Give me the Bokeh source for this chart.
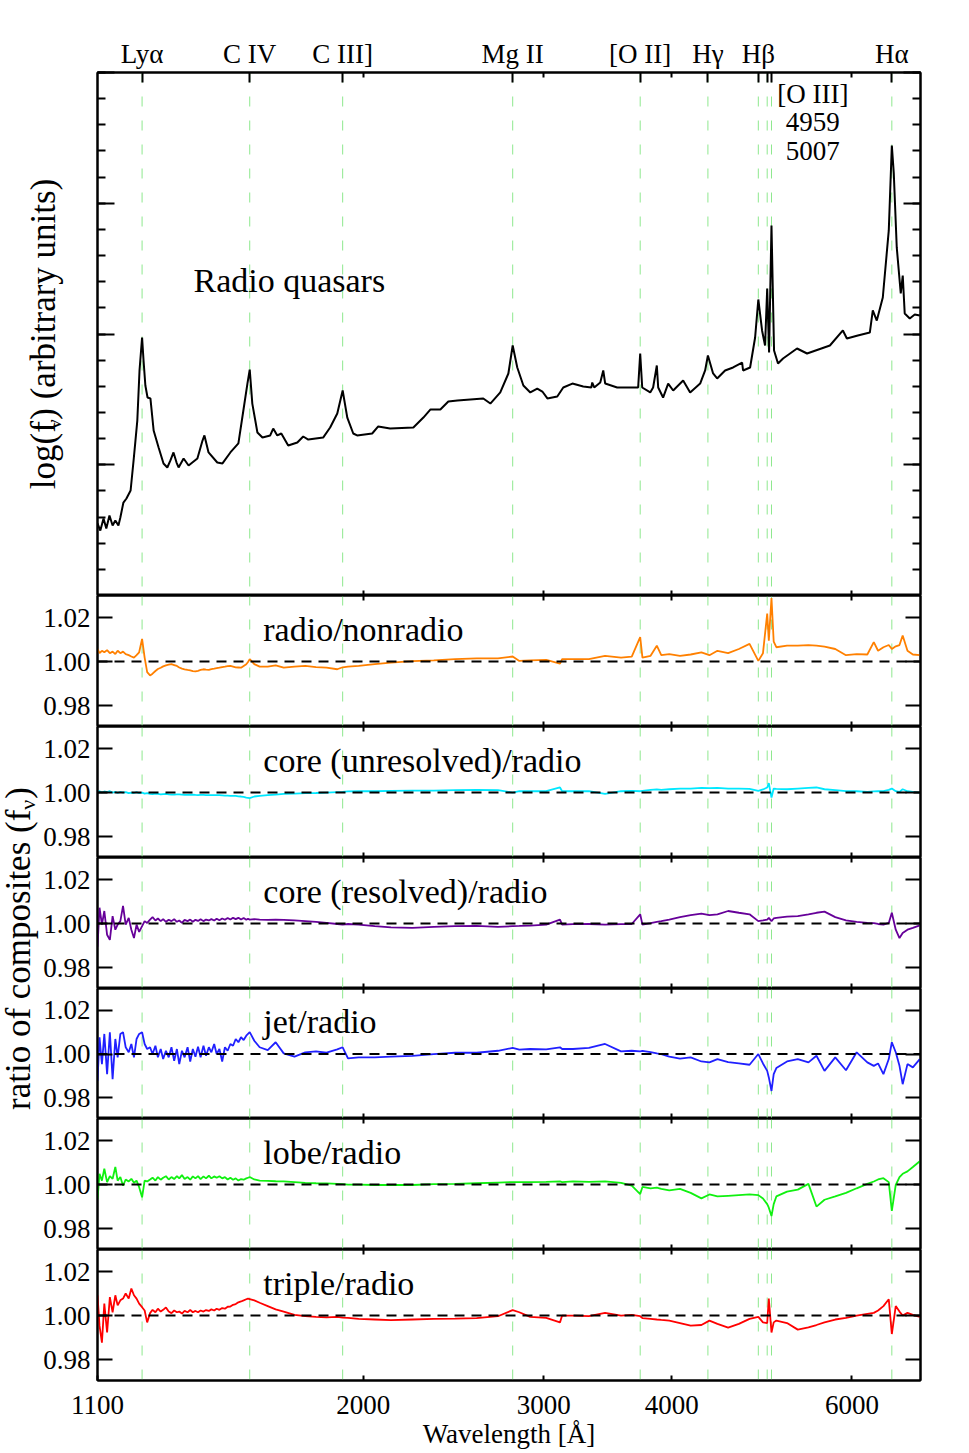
import math
from bokeh.plotting import figure
from bokeh.layouts import column, row
from bokeh.models import Range1d, LogAxis, LinearAxis, FixedTicker, Span
from bokeh.core.properties import value
from bokeh.embed import file_html
from bokeh.resources import INLINE

FONT = "Liberation Serif"

# ---------------- data ----------------
spec_wave = [1100,1107,1115,1122,1130,1138,1145,1153,1158,1166,
             1174,1185,1193,1198,1203,1209,1216,1220,1225,1231,
             1239,1248,1262,1276,1287,1296,1305,1314,1320,1335,
             1350,1377,1393,1399,1412,1440,1457,1483,1510,1527,
             1541,1549,1558,1576,1594,1622,1633,1648,1663,1689,
             1724,1747,1767,1827,1856,1886,1909,1929,1955,1972,
             2040,2068,2124,2238,2289,2326,2378,2421,2471,2544,
             2619,2661,2721,2771,2798,2827,2866,2911,2957,2991,
             3025,3093,3135,3200,3279,3339,3346,3361,3407,3430,
             3445,3539,3620,3710,3727,3744,3812,3837,3869,3881,
             3924,3969,4014,4105,4170,4265,4313,4340,4391,4431,
             4511,4593,4687,4697,4772,4826,4861,4902,4935,4959,
             4980,5007,5036,5081,5139,5303,5424,5710,5879,5932,
             6080,6246,6288,6345,6431,6518,6563,6592,6636,6696,
             6726,6756,6833,6910,6989]
spec_logf = [0.551,0.497,0.589,0.512,0.612,0.535,0.574,0.535,0.597,0.711,
             0.742,0.803,1.033,1.185,1.338,1.721,1.973,1.797,1.606,1.514,
             1.507,1.262,1.132,1.010,0.979,1.033,1.094,1.017,0.979,1.048,
             0.994,1.048,1.185,1.224,1.094,1.017,1.010,1.094,1.163,1.415,
             1.621,1.728,1.468,1.247,1.208,1.224,1.277,1.224,1.239,1.147,
             1.170,1.216,1.193,1.208,1.285,1.392,1.568,1.361,1.239,1.224,
             1.239,1.293,1.277,1.285,1.361,1.423,1.423,1.484,1.491,1.499,
             1.507,1.468,1.553,1.698,1.912,1.744,1.606,1.553,1.583,1.560,
             1.507,1.522,1.591,1.621,1.598,1.591,1.629,1.591,1.629,1.721,
             1.621,1.591,1.591,1.591,1.851,1.591,1.553,1.591,1.759,1.591,
             1.514,1.621,1.568,1.644,1.553,1.621,1.721,1.836,1.698,1.660,
             1.721,1.744,1.782,1.721,1.744,1.973,2.264,2.027,1.912,2.348,
             1.858,2.830,1.874,1.774,1.813,1.889,1.851,1.912,2.027,1.966,
             1.989,2.011,2.180,2.103,2.279,2.792,3.442,3.228,2.662,2.310,
             2.447,2.157,2.119,2.149,2.141]

ratio_wave = [1100,1105,1111,1117,1124,1131,1138,1145,1151,1158,
              1165,1172,1180,1187,1194,1201,1208,1216,1223,1230,
              1238,1245,1253,1260,1268,1275,1283,1291,1299,1307,
              1315,1322,1330,1338,1347,1355,1363,1371,1379,1387,
              1396,1404,1413,1421,1430,1438,1447,1456,1465,1474,
              1483,1492,1501,1510,1519,1528,1537,1543,1549,
              1565,1584,1613,1642,1672,1713,1755,1798,1841,1886,
              1909,1932,1979,2052,2128,2233,2343,2458,2580,2707,
              2798,2840,2910,3017,3112,3127,3204,3321,3444,3570,
              3657,3727,3746,3815,3869,3908,3979,4076,4175,4277,
              4355,4434,4542,4653,4766,4861,4912,4959,4977,5007,
              5032,5062,5185,5312,5441,5540,5641,5779,5920,6064,
              6211,6302,6363,6440,6518,6563,6621,6677,6725,6798,
              6881,6989]

radio_nonradio = [1.0057,1.0038,1.0049,1.0042,1.0052,1.0038,1.0045,1.0034,1.0049,1.0038,
                  1.0045,1.0034,1.0029,1.0023,1.0018,1.0029,1.0042,1.0103,1.0018,0.9952,
                  0.9937,0.9945,0.9957,0.9966,0.9972,0.9978,0.9983,0.9986,0.9988,0.9984,
                  0.9980,0.9973,0.9968,0.9965,0.9962,0.9960,0.9957,0.9955,0.9958,0.9962,
                  0.9965,0.9963,0.9962,0.9966,0.9968,0.9970,0.9972,0.9975,0.9977,0.9979,
                  0.9980,0.9977,0.9974,0.9973,0.9972,0.9980,0.9988,0.9998,1.0011,
                  0.9988,0.9977,0.9977,0.9983,0.9972,0.9977,0.9980,0.9975,0.9972,0.9965,
                  0.9974,0.9977,0.9980,0.9988,0.9995,1.0002,1.0005,1.0011,1.0014,1.0014,
                  1.0023,1.0003,1.0005,1.0008,0.9991,1.0011,1.0011,1.0011,1.0026,1.0018,
                  1.0022,1.0111,1.0018,1.0026,1.0072,1.0029,1.0034,1.0026,1.0032,1.0042,
                  1.0029,1.0049,1.0038,1.0057,1.0080,1.0003,1.0038,1.0218,1.0095,1.0288,
                  1.0091,1.0065,1.0072,1.0072,1.0075,1.0072,1.0068,1.0057,1.0029,1.0034,
                  1.0032,1.0088,1.0049,1.0065,1.0075,1.0057,1.0069,1.0075,1.0118,1.0049,
                  1.0032,1.0029]
core_unresolved = [1.0003,1.0006,1.0000,1.0005,1.0002,1.0006,1.0000,1.0003,0.9998,1.0003,
                   1.0000,1.0002,0.9997,1.0000,0.9998,1.0002,0.9997,1.0000,0.9995,0.9997,
                   0.9994,0.9993,0.9995,0.9994,0.9992,0.9993,0.9994,0.9992,0.9991,0.9991,
                   0.9992,0.9992,0.9991,0.9990,0.9989,0.9990,0.9991,0.9989,0.9988,0.9989,
                   0.9989,0.9988,0.9988,0.9988,0.9988,0.9988,0.9988,0.9987,0.9986,0.9986,
                   0.9985,0.9985,0.9985,0.9983,0.9982,0.9980,0.9977,0.9976,0.9975,
                   0.9982,0.9985,0.9988,0.9991,0.9994,0.9995,0.9997,0.9998,1.0000,1.0002,
                   1.0003,1.0005,1.0006,1.0006,1.0008,1.0009,1.0009,1.0011,1.0012,1.0011,
                   1.0000,1.0006,1.0006,1.0006,1.0023,1.0006,1.0006,1.0006,0.9994,1.0006,
                   1.0008,1.0006,1.0008,1.0012,1.0014,1.0012,1.0015,1.0018,1.0018,1.0021,
                   1.0020,1.0021,1.0018,1.0018,1.0017,1.0008,1.0014,1.0023,1.0043,0.9977,
                   1.0018,1.0017,1.0015,1.0018,1.0021,1.0023,1.0015,1.0011,1.0006,1.0006,
                   1.0003,1.0005,1.0006,1.0006,1.0012,1.0018,1.0006,1.0003,1.0015,1.0006,
                   1.0003,1.0000]
core_resolved = [0.9895,1.0072,0.9995,1.0057,0.9949,0.9926,1.0034,0.9972,0.9995,1.0011,
                 1.0080,0.9995,1.0026,0.9972,0.9934,0.9995,0.9962,0.9988,1.0011,1.0003,
                 1.0018,1.0029,1.0014,1.0023,1.0011,1.0020,1.0008,1.0017,1.0011,1.0020,
                 1.0008,1.0014,1.0003,1.0017,1.0011,1.0018,1.0008,1.0017,1.0012,1.0020,
                 1.0011,1.0018,1.0014,1.0020,1.0014,1.0022,1.0015,1.0023,1.0017,1.0025,
                 1.0018,1.0026,1.0020,1.0026,1.0018,1.0025,1.0017,1.0022,1.0018,
                 1.0020,1.0018,1.0017,1.0018,1.0017,1.0014,1.0011,1.0008,1.0003,0.9998,
                 0.9995,0.9998,0.9995,0.9988,0.9983,0.9980,0.9985,0.9988,0.9989,0.9985,
                 0.9988,0.9989,0.9991,0.9995,1.0018,0.9995,0.9997,0.9998,0.9995,0.9997,
                 0.9998,1.0042,0.9995,1.0002,1.0008,1.0011,1.0018,1.0029,1.0038,1.0045,
                 1.0038,1.0042,1.0057,1.0049,1.0042,1.0011,1.0014,1.0018,1.0026,1.0011,
                 1.0023,1.0026,1.0031,1.0034,1.0042,1.0049,1.0054,1.0029,1.0014,1.0008,
                 1.0003,1.0002,0.9998,0.9995,1.0003,1.0049,0.9972,0.9934,0.9957,0.9972,
                 0.9980,0.9992]
jet_radio = [0.9877,1.0077,0.9954,1.0092,0.9908,1.0100,0.9885,1.0069,0.9985,1.0092,
             1.0100,1.0031,1.0008,1.0046,0.9985,1.0069,1.0092,1.0100,1.0046,1.0023,
             1.0031,1.0000,1.0038,0.9985,1.0023,0.9977,1.0015,0.9985,1.0031,0.9969,
             1.0023,0.9954,1.0015,0.9985,1.0031,0.9966,1.0023,0.9988,1.0034,0.9985,
             1.0038,0.9992,1.0031,1.0008,1.0046,1.0000,1.0023,0.9966,1.0031,1.0015,
             1.0046,1.0038,1.0069,1.0054,1.0077,1.0064,1.0084,1.0092,1.0100,
             1.0061,1.0031,1.0018,1.0054,1.0003,0.9988,1.0008,1.0012,1.0006,1.0021,
             1.0031,0.9980,0.9985,0.9985,0.9988,0.9992,1.0000,1.0006,1.0006,1.0015,
             1.0028,1.0020,1.0023,1.0021,1.0031,1.0023,1.0023,1.0028,1.0046,1.0012,
             1.0015,1.0012,1.0015,1.0009,1.0003,1.0000,0.9988,0.9979,0.9985,0.9966,
             0.9962,0.9977,0.9963,0.9957,0.9951,1.0000,0.9957,0.9923,0.9893,0.9831,
             0.9908,0.9936,0.9966,0.9977,0.9962,0.9992,0.9923,0.9985,0.9926,1.0008,
             0.9962,0.9946,0.9957,0.9908,0.9977,1.0054,1.0008,0.9946,0.9862,0.9954,
             0.9939,0.9977]
lobe_radio = [0.9934,1.0049,1.0018,1.0072,1.0011,1.0038,1.0026,1.0080,1.0018,1.0034,
              0.9995,1.0023,1.0014,1.0026,1.0008,1.0018,0.9988,0.9942,1.0018,1.0014,
              1.0023,1.0031,1.0018,1.0034,1.0022,1.0031,1.0038,1.0023,1.0034,1.0025,
              1.0038,1.0028,1.0043,1.0025,1.0034,1.0022,1.0037,1.0028,1.0038,1.0025,
              1.0037,1.0028,1.0040,1.0028,1.0037,1.0031,1.0038,1.0028,1.0034,1.0023,
              1.0031,1.0022,1.0028,1.0018,1.0025,1.0022,1.0028,1.0031,1.0034,
              1.0023,1.0018,1.0017,1.0015,1.0014,1.0011,1.0008,1.0006,1.0005,1.0003,
              1.0002,1.0000,1.0000,0.9998,0.9998,0.9998,1.0002,1.0003,1.0006,1.0009,
              1.0011,1.0011,1.0011,1.0012,1.0014,1.0011,1.0014,1.0012,1.0014,1.0008,
              0.9995,0.9957,0.9989,0.9983,0.9986,0.9980,0.9974,0.9980,0.9962,0.9937,
              0.9955,0.9946,0.9949,0.9952,0.9955,0.9952,0.9937,0.9911,0.9895,0.9857,
              0.9911,0.9946,0.9968,0.9977,1.0003,0.9900,0.9931,0.9946,0.9962,0.9983,
              1.0003,1.0014,1.0023,1.0029,1.0011,0.9880,0.9998,1.0034,1.0049,1.0060,
              1.0080,1.0106]
triple_radio = [1.0092,0.9954,0.9877,1.0054,0.9923,1.0084,1.0015,1.0092,1.0046,1.0069,
                1.0077,1.0100,1.0077,1.0123,1.0092,1.0077,1.0054,1.0038,1.0023,0.9969,
                1.0011,1.0026,1.0015,1.0031,1.0018,1.0026,1.0037,1.0018,1.0011,1.0023,
                1.0015,1.0018,1.0009,1.0021,1.0015,1.0025,1.0015,1.0021,1.0015,1.0023,
                1.0018,1.0025,1.0021,1.0028,1.0023,1.0031,1.0026,1.0034,1.0031,1.0040,
                1.0041,1.0049,1.0052,1.0060,1.0064,1.0069,1.0074,1.0077,1.0075,
                1.0069,1.0058,1.0043,1.0028,1.0018,1.0003,0.9997,0.9994,0.9992,0.9994,
                0.9991,0.9989,0.9985,0.9982,0.9979,0.9982,0.9985,0.9986,0.9988,0.9997,
                1.0025,1.0015,0.9994,0.9989,0.9969,1.0000,1.0000,0.9997,1.0012,1.0000,
                1.0003,0.9997,0.9988,0.9985,0.9982,0.9980,0.9977,0.9966,0.9954,0.9957,
                0.9977,0.9962,0.9945,0.9962,0.9985,0.9994,0.9969,0.9966,1.0077,0.9923,
                0.9969,0.9977,0.9966,0.9936,0.9946,0.9957,0.9969,0.9982,0.9989,1.0000,
                1.0008,1.0012,1.0023,1.0043,1.0074,0.9916,1.0043,1.0018,1.0000,1.0012,
                1.0003,0.9994]

line_waves = [1216, 1549, 1909, 2798, 3727, 4340, 4861, 4959, 5007, 6563]
line_labels = ["Lyα", "C IV", "C III]", "Mg II", "[O II]", "Hγ", "Hβ", "", "", "Hα"]
x_tick_vals = [1100, 2000, 3000, 4000, 6000]
ratio_tick_vals = [0.98, 1.00, 1.02]
panel_names = ["radio/nonradio", "core (unresolved)/radio", "core (resolved)/radio",
               "jet/radio", "lobe/radio", "triple/radio"]
panel_series = [radio_nonradio, core_unresolved, core_resolved, jet_radio, lobe_radio, triple_radio]
panel_colors = ["#ff8000", "#00e8ff", "#660099", "#2020ff", "#10f010", "#ff0000"]
oiii_lines = ["[O III]", "4959", "5007"]

# ---------------- layout constants (page has no margin: window px == layout px) ----------------
X0, X1 = 1100, 7000
FRAME_LEFT = 97
FRAME_W = 823
RIGHT = 20
GREEN = "#8ee88e"
TOP_STRIP_W = 66
RAT_STRIP_W = 40
TOP_LEFT = FRAME_LEFT - TOP_STRIP_W
RAT_LEFT = FRAME_LEFT - RAT_STRIP_W
TOP_BORDER = 72
TOP_FRAME_H = 523
RAT_FRAME_H = [131, 131, 131, 130, 131, 131]
BOTTOM_BORDER = 72
MID = 0.3375  # em offset between text middle and alphabetic baseline
YLAB = 35

x_range = Range1d(X0, X1)


def ticks_only(ax, tin, minor_in=0):
    ax.major_tick_in = tin
    ax.major_tick_out = 0
    ax.minor_tick_in = minor_in
    ax.minor_tick_out = 0
    ax.major_label_text_font_size = "0px"
    ax.major_label_text_color = None
    ax.major_label_standoff = 0
    ax.axis_line_width = 2
    ax.major_tick_line_width = 2
    ax.minor_tick_line_width = 2
    ax.axis_line_color = "black"


def base_fig(w, h, y_range, left, top=0, bottom=0):
    p = figure(width=w, height=h, x_axis_type="log", x_range=x_range, y_range=y_range,
               x_axis_location=None, y_axis_location=None, toolbar_location=None,
               output_backend="svg", min_border_left=left, min_border_right=RIGHT,
               min_border_top=top, min_border_bottom=bottom,
               outline_line_color="black", outline_line_width=2,
               background_fill_color="white", border_fill_color="white")
    p.grid.visible = False
    for lw in line_waves:
        p.add_layout(Span(location=lw, dimension="height", line_color=GREEN,
                          line_dash="10 14", line_width=1, level="underlay"))
    return p


def strip(w, h):
    s = figure(width=w, height=h, x_range=Range1d(0, w), y_range=Range1d(0, h),
               min_border=0, toolbar_location=None, output_backend="svg",
               x_axis_location=None, y_axis_location=None, outline_line_color=None,
               background_fill_color="white", border_fill_color="white")
    s.grid.visible = False
    return s


# Times-like advance widths (em) to chain the rotated label pieces
CW = {" ": .25, "(": .333, ")": .333, "a": .444, "b": .5, "c": .444, "e": .444, "f": .333,
      "g": .5, "i": .278, "l": .278, "m": .778, "n": .5, "o": .5, "p": .5, "r": .333,
      "s": .389, "t": .278, "u": .5, "y": .5, "ν": .5}


def tw(s, size):
    return sum(CW.get(c, .5) for c in s) * size


def vlabel(s, base_x, y_center, pieces, size=YLAB, sub=22, drop=5):
    total = sum(tw(t, sub if is_sub else size) for t, is_sub in pieces)
    y = y_center - total / 2
    for txt, is_sub in pieces:
        fs = sub if is_sub else size
        bx = base_x + (drop if is_sub else 0)
        s.text(x=[bx - MID * fs], y=[y], text=[txt], angle=math.pi / 2,
               text_font=value(FONT), text_font_size=value(f"{fs}px"),
               text_align="left", text_baseline="middle", text_color="black")
        y += tw(txt, fs)


def hlabel_y_px(base_px, fs):
    # screen y of text middle for a wanted baseline
    return base_px - MID * fs


# ---------------- top spectrum panel ----------------
top_h = TOP_BORDER + TOP_FRAME_H
top_w = TOP_LEFT + FRAME_W + RIGHT
YT0, YT1 = 0, 4
ptop = base_fig(top_w, top_h, Range1d(YT0, YT1), TOP_LEFT, top=TOP_BORDER)


def top_y(px):  # window px -> top-panel data
    return YT1 - (px - TOP_BORDER) / TOP_FRAME_H * (YT1 - YT0)


ax = LogAxis(ticker=FixedTicker(ticks=line_waves, minor_ticks=x_tick_vals[1:]))
ax.major_label_overrides = {w: n for w, n in zip(line_waves, line_labels)}
ax.major_tick_in = 10
ax.major_tick_out = 0
ax.minor_tick_in = 5
ax.minor_tick_out = 0
ax.axis_line_width = 2
ax.major_tick_line_width = 2
ax.minor_tick_line_width = 2
ax.major_label_text_font = FONT
ax.major_label_text_font_size = "27px"
ax.major_label_text_color = "black"
ax.major_label_standoff = 4
ptop.add_layout(ax, "above")

ax = LogAxis(ticker=FixedTicker(ticks=x_tick_vals[1:]))
ticks_only(ax, 5)
ptop.add_layout(ax, "below")

for side in ("left", "right"):
    ax = LinearAxis(ticker=FixedTicker(ticks=[0, 1, 2, 3, 4], minor_ticks=[i / 5 for i in range(21)]))
    ticks_only(ax, 17, 8)
    ptop.add_layout(ax, side)

ptop.line(spec_wave, spec_logf, line_color="black", line_width=2)
ptop.text(x=[1365], y=[top_y(hlabel_y_px(291, 34))], text=["Radio quasars"], text_font=value(FONT),
          text_font_size=value("34px"), text_align="left", text_baseline="middle")
ptop.text(x=[5494] * 3, y=[top_y(hlabel_y_px(b, 27)) for b in (103, 131, 160)], text=oiii_lines,
          text_font=value(FONT), text_font_size=value("27px"), text_align="center",
          text_baseline="middle")

top_strip = strip(TOP_STRIP_W, top_h)
vlabel(top_strip, 55, top_h - 314,
       [("log(f", False), ("ν", True), (") (arbitrary units)", False)])

# ---------------- ratio panels ----------------
rat_w = RAT_LEFT + FRAME_W + RIGHT
RY0, RY1 = 0.9705, 1.0300
PX_PER_UNIT = 2200.0
ratio_figs = []
for i, (name, ser, col) in enumerate(zip(panel_names, panel_series, panel_colors)):
    last = i == len(panel_names) - 1
    h = RAT_FRAME_H[i] + (BOTTOM_BORDER if last else 0)
    p = base_fig(rat_w, h, Range1d(RY0, RY1), RAT_LEFT, bottom=BOTTOM_BORDER if last else 0)

    ax = LogAxis(ticker=FixedTicker(ticks=x_tick_vals[1:]))
    ticks_only(ax, 5)
    p.add_layout(ax, "above")

    if last:
        ax = LogAxis(ticker=FixedTicker(ticks=x_tick_vals))
        ax.major_label_overrides = {v: str(v) for v in x_tick_vals}
        ax.major_tick_in = 5
        ax.major_tick_out = 0
        ax.minor_tick_in = 0
        ax.minor_tick_out = 0
        ax.axis_line_width = 2
        ax.major_tick_line_width = 2
        ax.major_label_text_font = FONT
        ax.major_label_text_font_size = "27px"
        ax.major_label_text_color = "black"
        ax.major_label_standoff = 15
        ax.axis_label = "Wavelength [Å]"
        ax.axis_label_text_font = FONT
        ax.axis_label_text_font_size = "27px"
        ax.axis_label_text_font_style = "normal"
        ax.axis_label_text_color = "black"
        ax.axis_label_standoff = 2
    else:
        ax = LogAxis(ticker=FixedTicker(ticks=x_tick_vals[1:]))
        ticks_only(ax, 5)
    p.add_layout(ax, "below")

    ax = LinearAxis(ticker=FixedTicker(ticks=ratio_tick_vals))
    ax.major_label_overrides = {v: f"{v:.2f}" for v in ratio_tick_vals}
    ax.major_tick_in = 15
    ax.major_tick_out = 0
    ax.minor_tick_in = 0
    ax.minor_tick_out = 0
    ax.axis_line_width = 2
    ax.major_tick_line_width = 2
    ax.major_label_text_font = FONT
    ax.major_label_text_font_size = "27px"
    ax.major_label_text_color = "black"
    ax.major_label_standoff = 7
    p.add_layout(ax, "left")

    ax = LinearAxis(ticker=FixedTicker(ticks=ratio_tick_vals))
    ticks_only(ax, 15)
    p.add_layout(ax, "right")

    p.add_layout(Span(location=1.0, dimension="width", line_color="black",
                      line_dash="10 7", line_width=2, level="overlay"))
    p.line(ratio_wave, ser, line_color=col, line_width=1.8)
    # name baseline 21 px above the 1.00 line
    p.text(x=[1597], y=[1.0 + (21 + MID * 34) / PX_PER_UNIT], text=[name], text_font=value(FONT),
           text_font_size=value("34px"), text_align="left", text_baseline="middle")
    ratio_figs.append(p)

rat_h = sum(RAT_FRAME_H) + BOTTOM_BORDER
rat_strip = strip(RAT_STRIP_W, rat_h)
vlabel(rat_strip, 30, rat_h - (948 - top_h),
       [("ratio of composites (f", False), ("ν", True), (")", False)], drop=4)

layout = column(row(top_strip, ptop), row(rat_strip, column(*ratio_figs)))

with open("out.html", "w", encoding="utf-8") as f:
    f.write(file_html(layout, INLINE))
